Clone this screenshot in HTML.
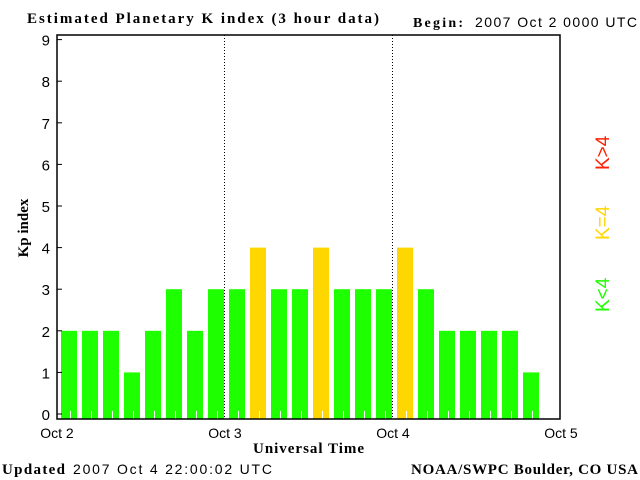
<!DOCTYPE html>
<html><head><meta charset="utf-8"><style>
body{margin:0;background:#fff;}
svg{display:block;font-family:"Liberation Sans",sans-serif;}
.serif{font-family:"Liberation Serif",serif;font-weight:bold;}
</style></head><body>
<svg id="c" width="640" height="480">
<text x="27" y="23" class="serif" font-size="15" textLength="352" lengthAdjust="spacing">Estimated Planetary K index (3 hour data)</text>
<text x="413" y="27" class="serif" font-size="14" textLength="50" lengthAdjust="spacing">Begin:</text>
<text x="475" y="27" font-size="14" textLength="162" lengthAdjust="spacing">2007 Oct 2 0000 UTC</text>
<g id="bars"></g>
<rect x="57" y="35" width="503" height="384" fill="none" stroke="#000" stroke-width="1.5"/>
<line x1="224.5" y1="35" x2="224.5" y2="419" stroke="#000" stroke-dasharray="1,2"/>
<line x1="392.5" y1="35" x2="392.5" y2="419" stroke="#000" stroke-dasharray="1,2"/>
<g id="yticks"></g>
<g id="xticks"></g>
<text transform="translate(28,228) rotate(-90)" text-anchor="middle" class="serif" font-size="15">Kp index</text>
<text x="253" y="453" class="serif" font-size="15" textLength="111" lengthAdjust="spacing">Universal Time</text>
<text x="2" y="474" class="serif" font-size="15" textLength="63" lengthAdjust="spacing">Updated</text>
<text x="73" y="474" font-size="14" textLength="199" lengthAdjust="spacing">2007 Oct  4 22:00:02 UTC</text>
<text x="411" y="474" class="serif" font-size="15" textLength="227" lengthAdjust="spacing">NOAA/SWPC Boulder, CO USA</text>
<text transform="translate(609,312) rotate(-90)" font-size="19" fill="#1eff00">K&lt;4</text>
<text transform="translate(609,240) rotate(-90)" font-size="19" fill="#ffd700">K=4</text>
<text transform="translate(609,170) rotate(-90)" font-size="19" fill="#ff2000">K&gt;4</text>
</svg>
<script>
const kpValues=[2,2,2,1,2,3,2,3, 3,4,3,3,4,3,3,3, 4,3,2,2,2,2,1];
const yTickLabels=["0","1","2","3","4","5","6","7","8","9"];
const dayLabels=["Oct 2","Oct 3","Oct 4","Oct 5"];
const NS="http://www.w3.org/2000/svg";
const x0=57,slot=21,bottom=419;
const yScale=v=>414-v*41.6;
const xScale=i=>x0+i*slot;
function mk(tag,attrs,parent){const e=document.createElementNS(NS,tag);for(const k in attrs)e.setAttribute(k,attrs[k]);parent.appendChild(e);return e;}
const bars=document.getElementById('bars');
kpValues.forEach((v,i)=>{
  const col=v<4?'#1eff00':(v==4?'#ffd700':'#ff2000');
  const y=yScale(v);
  const r=mk('rect',{x:xScale(i)+4,y:y,width:16,height:bottom-y,fill:col},bars);
  
  
  const t=mk('line',{x1:xScale(i)+13.5,x2:xScale(i)+13.5,y1:bottom-8,y2:bottom,stroke:'#fff'},bars);
  
  
});
const yt=document.getElementById('yticks');
yTickLabels.forEach((s,i)=>{
  const y=yScale(i);
  const l=mk('line',{x1:57,x2:62,y1:y,y2:y,stroke:'#000'},yt);
  
  
  const t=mk('text',{x:50,y:y+6,'text-anchor':'end','font-size':'15'},yt);
  t.textContent=s;
  
  
});
const xt=document.getElementById('xticks');
dayLabels.forEach((s,i)=>{
  const t=mk('text',{x:xScale(i*8),y:438,'text-anchor':'middle','font-size':'14'},xt);
  t.textContent=s;
  
  
});
</script>
</body></html>
